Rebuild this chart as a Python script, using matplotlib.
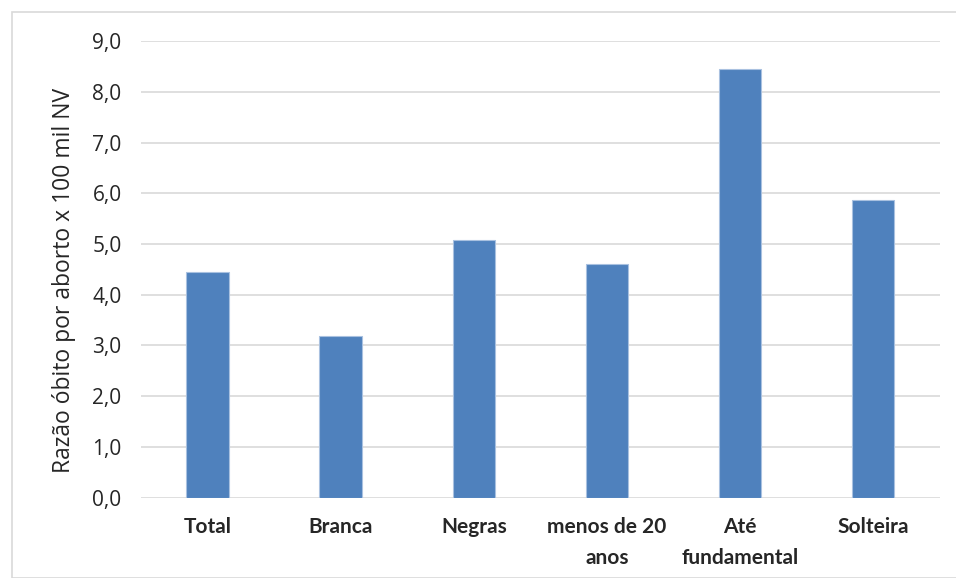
import matplotlib.pyplot as plt
from matplotlib.patches import Rectangle

categories = ['Total', 'Branca', 'Negras', 'menos de 20\nanos', 'Até\nfundamental', 'Solteira']
values = [4.45, 3.18, 5.08, 4.60, 8.44, 5.87]
yticks = [0, 1, 2, 3, 4, 5, 6, 7, 8, 9]
ytick_labels = ['0,0', '1,0', '2,0', '3,0', '4,0', '5,0', '6,0', '7,0', '8,0', '9,0']

plt.rcParams['font.family'] = ['Lato', 'DejaVu Sans']

fig = plt.figure(figsize=(9.56, 5.78), dpi=100)
ax = fig.add_axes([0.1475, 0.139, 0.8355, 0.790])

# chart frame
fig.patches.append(Rectangle((12 / 956, 0), 1, 1 - 12 / 578, transform=fig.transFigure,
                             fill=False, edgecolor='#d9d9d9', linewidth=1.2))

x = range(len(categories))
ax.bar(x, values, width=0.32, color='#4f81bd', edgecolor='#a9c1e0', linewidth=0.8, zorder=3)

ax.set_xlim(-0.5, len(categories) - 0.5)
ax.set_ylim(0, 9)
ax.set_yticks(yticks)
ax.set_yticklabels(ytick_labels, fontsize=15, color='#262626', family=['Open Sans', 'DejaVu Sans'])
ax.set_xticks(list(x))
ax.set_xticklabels(categories, fontsize=15, fontweight='bold', color='#262626', linespacing=1.65)
ax.tick_params(axis='x', length=0, pad=14)
ax.tick_params(axis='y', length=0, pad=14)
ax.grid(axis='y', color='#d9d9d9', linewidth=1.2, zorder=0)
for s in ax.spines.values():
    s.set_visible(False)

ax.set_ylabel('Razão óbito por aborto x 100 mil NV', fontsize=16.5, color='#262626',
              family=['Open Sans', 'DejaVu Sans'])
ax.yaxis.set_label_coords(-0.082, 0.475)

fig.savefig('out.png', dpi=100)
